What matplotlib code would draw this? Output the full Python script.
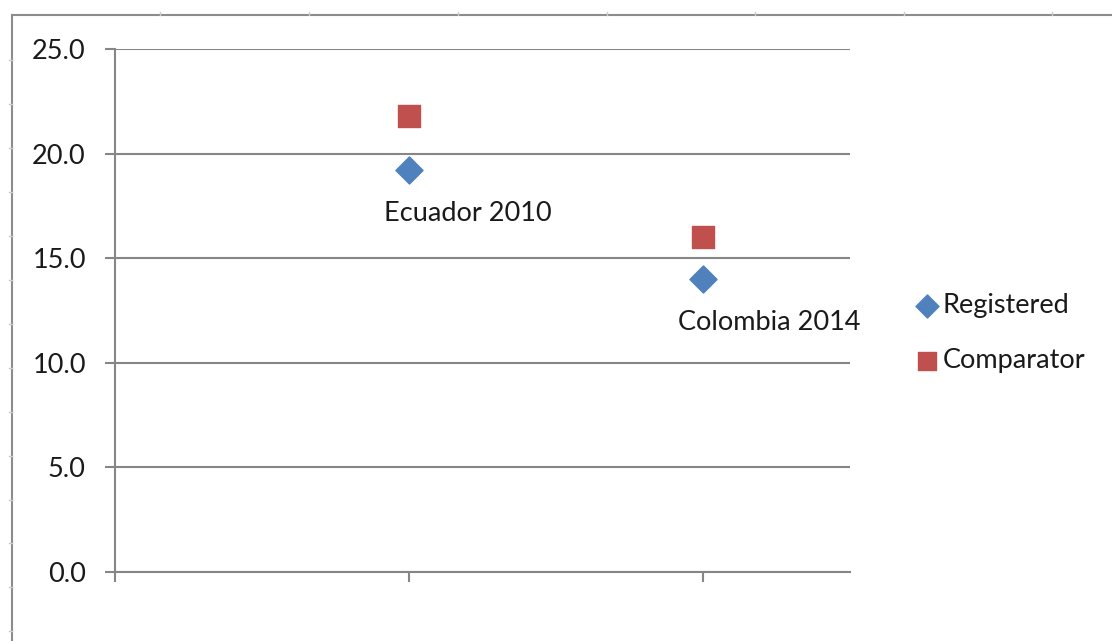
import matplotlib.pyplot as plt
from matplotlib.lines import Line2D

# data
countries = ['Ecuador 2010', 'Colombia 2014']
x_pos = [1, 2]
registered = [19.2, 14.0]
comparator = [21.8, 16.0]

plt.rcParams['font.family'] = ['Lato', 'DejaVu Sans']
grey = '#868686'

fig = plt.figure(figsize=(11.12, 6.41), dpi=100)
W, H = 1112, 641

# plot area in pixel terms
left, right, top, bottom = 115, 850, 49, 572
ax = fig.add_axes([left / W, (H - bottom) / H, (right - left) / W, (bottom - top) / H])

ax.scatter(x_pos, comparator, marker='s', s=230, color='#C0504D', zorder=3, label='Comparator')
ax.scatter(x_pos, registered, marker='D', s=190, color='#4F81BD', zorder=3, label='Registered')

for x, y, name in zip(x_pos, registered, countries):
    ax.annotate(name, (x, y), xytext=(-18, -31), textcoords='offset points',
                ha='left', va='center', fontsize=19.5, color='#1a1a1a')

ax.set_xlim(0, 2.5)
ax.set_ylim(0, 25)
ax.set_yticks([0, 5, 10, 15, 20, 25])
ax.set_yticklabels(['%.1f' % v for v in [0, 5, 10, 15, 20, 25]], fontsize=19.5, color='#1a1a1a')
ax.set_xticks([0, 1, 2])
ax.set_xticklabels([])
ax.grid(axis='y', color=grey, linewidth=1.5)
ax.set_axisbelow(True)
ax.tick_params(axis='both', direction='out', length=7, width=1.5, color=grey, pad=14)
for s in ['top', 'right']:
    ax.spines[s].set_visible(False)
for s in ['left', 'bottom']:
    ax.spines[s].set_color(grey)
    ax.spines[s].set_linewidth(1.5)

handles, labels = ax.get_legend_handles_labels()
leg = fig.legend(handles[::-1], labels[::-1], loc='center left',
                 bbox_to_anchor=(886 / W, (H - 333) / H), frameon=False,
                 fontsize=19.5, handletextpad=0.0, labelspacing=1.1,
                 handlelength=1.2, markerscale=0.85)
for t in leg.get_texts():
    t.set_color('#1a1a1a')

# sheet border around the chart
fig.add_artist(Line2D([12 / W, 12 / W], [0, (H - 15) / H], color='#8c8c8c', linewidth=1.5))
fig.add_artist(Line2D([12 / W, 1], [(H - 15) / H, (H - 15) / H], color='#8c8c8c', linewidth=1.5))
for cx in [160, 309, 458, 607, 755, 904, 1052]:
    fig.add_artist(Line2D([cx / W, cx / W], [(H - 15) / H, (H - 12) / H], color='#cccccc', linewidth=1))
for ry in [60, 104, 148, 192, 236, 280, 324, 368, 412, 456, 500, 543, 587, 631]:
    fig.add_artist(Line2D([9 / W, 12 / W], [(H - ry) / H, (H - ry) / H], color='#cccccc', linewidth=1))

fig.savefig('out.png', dpi=100)
